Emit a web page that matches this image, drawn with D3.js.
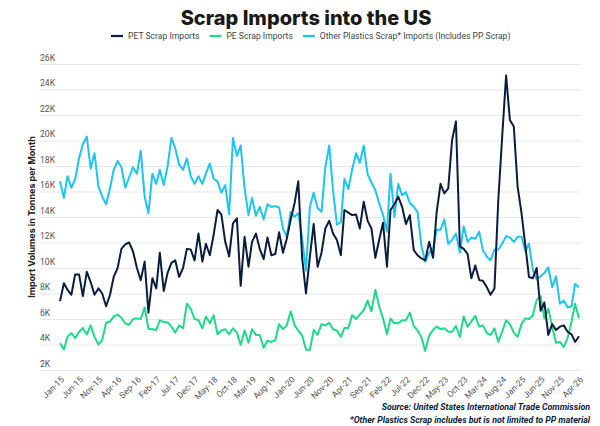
<!DOCTYPE html>
<html>
<head>
<meta charset="utf-8">
<script src="https://cdn.jsdelivr.net/npm/d3@7"></script>
<style>
  body { margin: 0; background: #fff; }
  text { font-family: Roboto, "Noto Sans", sans-serif; }
</style>
</head>
<body>
<div id="chart"></div>
<script>
const width = 600;
const height = 426;

// monthly import volumes, thousand tonnes, Jan-15 .. Apr-26
const petScrap = [
  7.4, 8.8, 8.3, 7.9, 9.5, 9.5, 7.8, 9.7, 8.9, 7.9, 8.4, 8.0, 7.0, 7.9,
  9.3, 10.0, 11.5, 11.85, 12.0, 11.3, 10.0, 9.05, 10.5, 6.5, 9.2, 8.4, 11.2, 8.2,
  9.6, 10.4, 10.6, 9.3, 10.0, 11.5, 11.45, 10.6, 12.7, 10.5, 11.9, 11.0, 12.6, 14.55,
  14.2, 12.05, 10.9, 13.5, 13.9, 8.6, 12.45, 10.1, 12.05,
  12.7, 11.5, 10.7, 12.4, 11.0, 11.1, 12.8, 11.2, 12.3, 13.8, 15.1, 16.8, 10.75, 8.0,
  10.9, 13.45, 10.1, 11.2, 13.1, 13.7, 12.7, 12.2, 11.0, 14.55, 14.35, 14.15, 14.2, 13.1,
  15.2, 13.7,
  13.1, 10.8, 12.2, 13.55, 10.1, 14.55, 15.0, 15.6, 14.8, 13.45, 14.15, 11.4, 11.0, 10.75,
  10.6, 12.05, 10.8, 14.35, 16.6, 15.85, 16.25, 20.0, 21.5, 11.7, 11.5, 11.1,
  9.2, 10.2, 9.05, 9.0, 8.5, 7.9, 8.4, 15.3, 20.3, 25.1, 21.6, 21.1, 16.4, 14.3,
  11.7, 9.3, 9.2, 10.0, 6.65, 7.3, 4.75, 5.6, 5.14, 5.4, 5.5, 5.0, 4.8, 4.2, 4.65
];
const peScrap = [
  4.1, 3.6, 4.6, 4.9, 4.5, 5.0, 5.3, 4.8, 5.5, 4.6, 4.0, 4.35, 5.7, 5.8,
  6.2, 6.35, 6.1, 5.65, 5.55, 6.0, 6.05, 6.0, 6.9, 5.24, 5.2, 5.14, 5.9, 5.75,
  5.74, 5.4, 4.93, 5.5, 5.27, 7.2, 6.8, 6.0, 5.9, 5.27, 6.2, 5.66, 6.3, 4.8,
  5.1, 5.2, 4.8, 5.27, 4.93, 3.96, 5.1, 4.14, 5.2, 4.75, 4.75, 3.75, 4.3,
  4.2, 4.35, 5.6, 5.2, 5.5, 6.6, 5.5, 5.1, 4.7, 3.6, 3.57, 5.14, 4.75, 5.6,
  5.5, 5.7, 5.2, 5.1, 4.6, 5.3, 5.3, 6.3, 6.0, 6.35, 6.7, 7.45,
  6.6, 8.3, 7.0, 6.05, 4.8, 6.05, 5.66, 5.66, 5.9, 5.9, 6.5, 5.45, 5.1, 4.56,
  3.5, 4.7, 5.15, 5.4, 5.2, 5.27, 5.0, 5.0, 5.45, 4.6, 6.2, 5.4,
  5.8, 6.25, 5.4, 5.5, 4.9, 4.75, 5.27, 4.2, 5.0, 5.9, 5.6, 4.93, 4.6, 5.6,
  6.05, 6.0, 6.3, 7.5, 7.8, 6.05, 6.8, 5.4, 4.14, 4.2, 3.8, 4.5, 5.8, 7.2, 6.05
];
const otherScrap = [
  16.8, 15.5, 17.2, 16.3, 16.95, 18.6, 19.7, 20.3, 17.8, 19.0, 16.4, 15.6, 15.0, 16.25,
  17.7, 18.4, 17.9, 16.3, 17.1, 17.9, 17.4, 19.2, 15.6, 14.3, 17.4, 16.6, 17.7, 16.5,
  17.95, 20.2, 19.4, 18.1, 17.7, 18.6, 17.2, 16.6, 17.2, 16.6, 17.4, 18.2, 17.0, 16.8,
  15.9, 16.5, 14.2, 20.2, 18.8, 19.6, 16.25, 14.15, 15.5, 14.1, 14.8, 13.8,
  15.0, 14.8, 14.85, 14.75, 13.1, 12.45, 14.4, 14.0, 14.3, 12.3, 9.8, 14.8, 15.9, 14.7,
  14.4, 17.9, 19.6, 16.1, 13.4, 13.6, 17.0, 16.2, 17.7, 19.0, 18.25, 19.6, 17.35,
  16.7, 16.1, 15.1, 14.15, 12.85, 17.4, 14.0, 16.6, 15.7, 15.95, 15.1, 14.8, 14.4, 11.7,
  10.5, 11.2, 11.5, 13.0, 13.0, 13.8, 11.9, 12.2, 12.7, 11.2, 13.25, 12.05,
  12.4, 12.3, 12.85, 11.4, 10.9, 10.6, 11.45, 11.45, 11.9, 12.5, 12.4, 12.05, 12.45, 12.45,
  11.3, 11.9, 9.85, 9.1, 9.35, 9.6, 10.05, 8.5, 9.35, 7.2, 7.45, 6.9, 7.0, 8.75, 8.5
];
const yTicks = [2, 4, 6, 8, 10, 12, 14, 16, 18, 20, 22, 24, 26];
const xTickLabels = [
  "Jan-15", "Jun-15", "Nov-15", "Apr-16", "Sep-16", "Feb-17", "Jul-17", "Dec-17",
  "May-18", "Oct-18", "Mar-19", "Aug-19", "Jan-20", "Jun-20", "Nov-20", "Apr-21",
  "Sep-21", "Feb-22", "Jul-22", "Dec-22", "May-23", "Oct-23", "Mar-24", "Aug-24",
  "Jan-25", "Jun-25", "Nov-25", "Apr-26"
];

const months = d3.timeMonth.range(new Date(2015, 0, 1), new Date(2026, 4, 1));
const parseLabel = d3.timeParse("%b-%y");
const tickDates = xTickLabels.map(parseLabel);

const series = [
  { name: "Other Plastics Scrap* Imports (Includes PP Scrap)", values: otherScrap, color: "#1cc4f0" },
  { name: "PE Scrap Imports", values: peScrap, color: "#1fd888" },
  { name: "PET Scrap Imports", values: petScrap, color: "#0b1d3d" }
];
const legendOrder = [series[2], series[1], series[0]];

const svg = d3
  .select("#chart")
  .append("svg")
  .attr("width", width)
  .attr("height", height);

const xScale = d3
  .scaleTime()
  .domain([months[0], months[months.length - 1]])
  .range([60, 579]);

const yScale = d3.scaleLinear().domain([2, 26]).range([370, 64]);

// title
svg
  .append("text")
  .attr("x", 306)
  .attr("y", 25)
  .attr("text-anchor", "middle")
  .style("font-family", "Inter, sans-serif")
  .style("font-size", "20px")
  .style("font-weight", 800)
  .style("fill", "#1a1a1a")
  .text("Scrap Imports into the US");

// legend
let lx = 111;
legendOrder.forEach((s) => {
  const g = svg.append("g").attr("transform", "translate(" + lx + ",36)");
  g.append("line")
    .attr("x1", 0)
    .attr("x2", 12)
    .attr("stroke", s.color)
    .attr("stroke-width", 2.2);
  const t = g
    .append("text")
    .attr("x", 17)
    .attr("dy", "0.35em")
    .style("font-size", "8.6px")
    .style("fill", "#444")
    .text(s.name);
  lx += 17 + t.node().getComputedTextLength() + 10;
});

// y gridlines + labels
const yAxis = d3
  .axisRight(yScale)
  .tickValues(yTicks)
  .tickSize(541)
  .tickFormat((d) => d + "K");

svg
  .append("g")
  .attr("transform", "translate(40,0)")
  .call(yAxis)
  .call((g) => g.select(".domain").remove())
  .call((g) => g.selectAll(".tick line").attr("stroke", "#e8e8e8"))
  .call((g) =>
    g
      .selectAll(".tick text")
      .attr("x", 0)
      .attr("dy", -4)
      .attr("text-anchor", "start")
      .style("font-size", "8.6px")
      .style("font-family", "Roboto, sans-serif")
      .style("fill", "#555")
  );

// x axis labels
const xAxis = d3
  .axisBottom(xScale)
  .tickValues(tickDates)
  .tickSize(0)
  .tickFormat(d3.timeFormat("%b-%y"));

svg
  .append("g")
  .attr("transform", "translate(0,372)")
  .call(xAxis)
  .call((g) => g.select(".domain").remove())
  .call((g) =>
    g
      .selectAll(".tick text")
      .attr("y", 0)
      .attr("dy", "0.35em")
      .attr("text-anchor", "end")
      .attr("transform", "translate(2,6) rotate(-45)")
      .style("font-size", "8.6px")
      .style("font-family", "Roboto, sans-serif")
      .style("fill", "#555")
  );

// y axis title
svg
  .append("text")
  .attr("transform", "translate(35,217) rotate(-90)")
  .attr("text-anchor", "middle")
  .style("font-family", "Inter, sans-serif")
  .style("font-size", "9px")
  .style("font-weight", 700)
  .style("fill", "#222")
  .text("Import Volumes in Tonnes per Month");

// lines
const line = d3
  .line()
  .x((d, i) => xScale(months[i]))
  .y((d) => yScale(d));

svg
  .selectAll("path.series")
  .data(series)
  .enter()
  .append("path")
  .attr("class", "series")
  .attr("d", (d) => line(d.values))
  .attr("fill", "none")
  .attr("stroke", (d) => d.color)
  .attr("stroke-width", 2)
  .attr("stroke-linejoin", "round");

// footer notes
svg
  .append("text")
  .attr("x", 590)
  .attr("y", 410)
  .attr("text-anchor", "end")
  .style("font-size", "8.8px")
  .style("font-weight", 700)
  .style("font-style", "italic")
  .style("fill", "#0b1d3d")
  .text("Source: United States International Trade Commission");

svg
  .append("text")
  .attr("x", 590)
  .attr("y", 423)
  .attr("text-anchor", "end")
  .style("font-size", "8.8px")
  .style("font-weight", 700)
  .style("font-style", "italic")
  .style("fill", "#0b1d3d")
  .text("*Other Plastics Scrap includes but is not limited to PP material");
</script>
</body>
</html>
